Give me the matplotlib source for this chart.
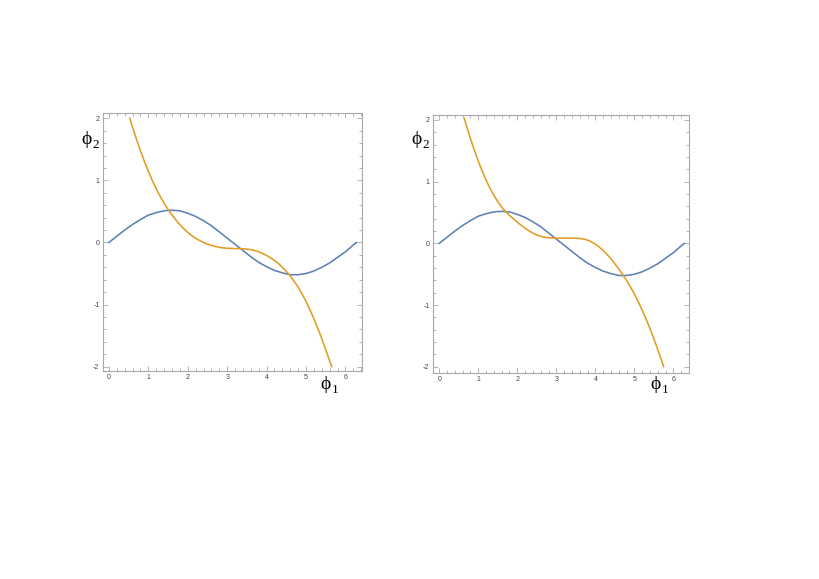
import matplotlib
matplotlib.use("Agg")
import matplotlib.pyplot as plt
from matplotlib.ticker import MultipleLocator, FuncFormatter

# ---- data ----
blue_x = [0, 0.2, 0.4, 0.6, 0.8, 1.0, 1.2, 1.4, 1.6, 1.8, 2.0, 2.2, 2.4, 2.6, 2.8, 3.0,
          3.2, 3.4, 3.6, 3.8, 4.0, 4.2, 4.4, 4.6, 4.8, 5.0, 5.2, 5.4, 5.6, 5.8, 6.0, 6.2, 6.28]
blue_y = [0.0, 0.10, 0.20, 0.29, 0.37, 0.44, 0.48, 0.51, 0.52, 0.51, 0.47, 0.42, 0.35, 0.27,
          0.17, 0.07, -0.03, -0.13, -0.23, -0.32, -0.39, -0.45, -0.49, -0.52, -0.52, -0.50,
          -0.46, -0.40, -0.33, -0.24, -0.15, -0.04, 0.0]

left_orange_x = [0.53, 0.6, 0.7, 0.8, 0.9, 1.0, 1.1, 1.2, 1.3, 1.4, 1.5, 1.6, 1.7, 1.8, 1.9,
                 2.0, 2.1, 2.2, 2.3, 2.4, 2.5, 2.6, 2.7, 2.8, 2.9, 3.0, 3.2, 3.4, 3.6, 3.7,
                 3.8, 3.9, 4.0, 4.1, 4.2, 4.3, 4.4, 4.5, 4.6, 4.7, 4.8, 4.9, 5.0, 5.1, 5.2,
                 5.3, 5.4, 5.5, 5.6, 5.65]
left_orange_y = [2.0, 1.856, 1.66, 1.477, 1.306, 1.147, 1.0, 0.865, 0.742, 0.632, 0.533,
                 0.444, 0.361, 0.286, 0.220, 0.162, 0.111, 0.068, 0.031, 0.0, -0.026, -0.047,
                 -0.065, -0.078, -0.088, -0.093, -0.098, -0.102, -0.115, -0.13, -0.15, -0.178,
                 -0.21, -0.248, -0.29, -0.34, -0.40, -0.465, -0.54, -0.625, -0.72, -0.83,
                 -0.95, -1.085, -1.23, -1.385, -1.55, -1.725, -1.91, -2.0]

right_orange_x = [0.64, 0.7, 0.8, 0.9, 1.0, 1.1, 1.2, 1.3, 1.4, 1.5, 1.6, 1.7, 1.8, 1.9,
                  2.0, 2.1, 2.2, 2.3, 2.4, 2.5, 2.6, 2.7, 2.8, 2.9, 3.0, 3.2, 3.4, 3.6, 3.7,
                  3.8, 3.9, 4.0, 4.1, 4.2, 4.3, 4.4, 4.5, 4.6, 4.7, 4.8, 4.9, 5.0, 5.1, 5.2,
                  5.3, 5.4, 5.5, 5.6, 5.7, 5.75]
right_orange_y = [2.03, 1.901, 1.697, 1.507, 1.332, 1.172, 1.026, 0.895, 0.778, 0.676, 0.588,
                  0.515, 0.455, 0.398, 0.344, 0.293, 0.246, 0.203, 0.166, 0.136, 0.114, 0.10,
                  0.092, 0.088, 0.086, 0.085, 0.085, 0.08, 0.07, 0.052, 0.025, -0.012, -0.06,
                  -0.115, -0.18, -0.25, -0.33, -0.415, -0.505, -0.60, -0.705, -0.82, -0.945,
                  -1.08, -1.225, -1.38, -1.545, -1.72, -1.90, -1.995]

x_ticks = [0, 1, 2, 3, 4, 5, 6]
y_ticks = [-2, -1, 0, 1, 2]

BLUE = "#5E81B5"
ORANGE = "#E19C24"
FRAME = "#a8a8a8"

W, H = 819, 579
fig = plt.figure(figsize=(W / 100, H / 100), dpi=100)


def px_axes(l, t, r, b):
    return fig.add_axes([l / W, 1 - b / H, (r - l) / W, (b - t) / H])


def style(ax, xlim, ylim):
    ax.set_xlim(*xlim)
    ax.set_ylim(*ylim)
    for s in ax.spines.values():
        s.set_color(FRAME)
        s.set_linewidth(0.8)
    ax.set_xticks(x_ticks)
    ax.set_yticks(y_ticks)
    ax.xaxis.set_minor_locator(MultipleLocator(0.2))
    ax.yaxis.set_minor_locator(MultipleLocator(0.2))
    fmt = FuncFormatter(lambda v, p: "%d" % v)
    ax.xaxis.set_major_formatter(fmt)
    ax.yaxis.set_major_formatter(fmt)
    ax.tick_params(which="both", direction="in", top=True, right=True, color=FRAME,
                   width=0.6, labelsize=5, labelcolor="#444444")
    ax.tick_params(which="major", length=3.5, pad=2.5)
    ax.tick_params(which="minor", length=2)
    for lab in ax.get_xticklabels() + ax.get_yticklabels():
        lab.set_family(["Liberation Sans", "DejaVu Sans"])


def phi_label(x, y, sub):
    fig.text(x / W, 1 - y / H, "\u03d5", fontsize=14,
             family=["Liberation Serif", "DejaVu Serif"], ha="left", va="baseline")
    fig.text((x + 11.5) / W, 1 - (y + 4) / H, sub, fontsize=9.5,
             family=["Liberation Serif", "DejaVu Serif"], ha="left", va="baseline")


ax1 = px_axes(103, 113, 362, 371)
ax1.plot(blue_x, blue_y, color=BLUE, lw=1.15, solid_joinstyle="round")
ax1.plot(left_orange_x, left_orange_y, color=ORANGE, lw=1.15, solid_joinstyle="round")
style(ax1, (-0.15, 6.42), (-2.07, 2.085))

ax2 = px_axes(433, 115, 689, 373)
ax2.plot(blue_x, blue_y, color=BLUE, lw=1.15, solid_joinstyle="round")
ax2.plot(right_orange_x, right_orange_y, color=ORANGE, lw=1.15, solid_joinstyle="round")
style(ax2, (-0.16, 6.40), (-2.10, 2.08))

phi_label(81, 144, "2")
phi_label(320, 389, "1")
phi_label(411, 144, "2")
phi_label(650, 389, "1")

fig.savefig("out.png", dpi=100)
